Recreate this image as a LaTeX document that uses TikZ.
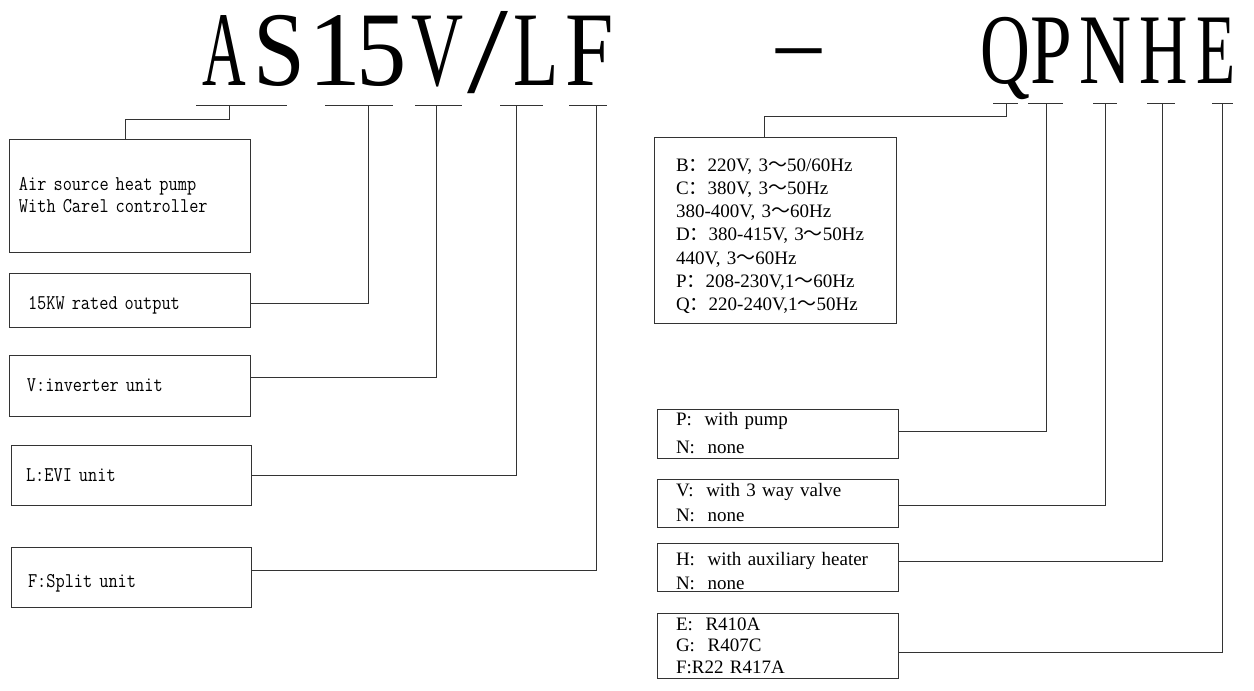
\documentclass[tikz,border=0pt]{standalone}
\usepackage{fontspec}
\setmainfont{Liberation Serif}
\newfontfamily\titlefont{Liberation Serif}
\newfontfamily\monofont[FakeStretch=0.85]{Latin Modern Mono}
\newfontfamily\cjk{Noto Sans CJK SC}
\newcommand{\fc}{{\cjk ：}}
\newcommand{\ft}{{\cjk ～}}
\newcommand{\topstrut}[1]{\rule{0pt}{#1}}
\definecolor{lc}{gray}{0.2}
\tikzset{
  ln/.style={draw=lc, line width=1pt},
  box/.style={draw=lc, line width=1pt, inner ysep=0pt, align=left},
  lt/.style={font=\monofont\fontsize{21}{22}\selectfont},
  rt/.style={font=\titlefont\fontsize{19}{#1}\selectfont},
  tchl/.style={anchor=base, inner sep=0pt, font=\titlefont\fontsize{106}{106}\selectfont},
  tchr/.style={anchor=base, inner sep=0pt, font=\titlefont\fontsize{100}{100}\selectfont}
}
\begin{document}
\begin{tikzpicture}[x=1pt,y=-1pt]
\useasboundingbox (0,0) rectangle (1254,691);

% ---- title, left part
\node[tchl] (tA) at (224,85) {\scalebox{0.57}[1]{A}};
\node[tchl] (tS) at (279,85) {\scalebox{0.88}[1]{S}};
\node[tchl] (t1) at (335,85) {\scalebox{1.0}[1]{1}};
\node[tchl] (t5) at (382,85) {\scalebox{0.95}[1]{5}};
\node[tchl] (tV) at (438,85) {\scalebox{0.68}[1]{V}};
\node[tchl] (tSl) at (487.5,92.7) {\scalebox{1.39}[1.16]{/}};
\node[tchl] (tL) at (536,85) {\scalebox{0.7}[1]{L}};
\node[tchl] (tF) at (590,85) {\scalebox{0.82}[1]{F}};
% ---- dash
\node[tchr] (tD) at (798.5,74) {\scalebox{0.9}[1]{–}};
% ---- title, right part
\node[tchr] (tQ) at (1005.5,83) {\scalebox{0.69}[1]{Q}};
\node[tchr] (tP) at (1051,83) {\scalebox{0.75}[1]{P}};
\node[tchr] (tN) at (1105,83) {\scalebox{0.72}[1]{N}};
\node[tchr] (tH) at (1163.5,83) {\scalebox{0.67}[1]{H}};
\node[tchr] (tE) at (1216,83) {\scalebox{0.64}[1]{E}};

% ---- underlines
\draw[ln] (196,105) -- (287,105);
\draw[ln] (325,105) -- (393,105);
\draw[ln] (415,105) -- (462,105);
\draw[ln] (500,105) -- (543,105);
\draw[ln] (569,105) -- (607,105);
\draw[ln] (993,103) -- (1018,103);
\draw[ln] (1028,103) -- (1063,103);
\draw[ln] (1093,103) -- (1117,103);
\draw[ln] (1147,103) -- (1175,103);
\draw[ln] (1212,103) -- (1233,103);

% ---- junctions
\coordinate (jAS) at (229,105);
\coordinate (j15) at (368,105);
\coordinate (jV) at (436,105);
\coordinate (jL) at (516,105);
\coordinate (jF) at (596,105);
\coordinate (jQ) at (1006,103);
\coordinate (jP) at (1046,103);
\coordinate (jN) at (1105,103);
\coordinate (jH) at (1162,103);
\coordinate (jE) at (1222,103);

% ---- left boxes
\node[box, lt, minimum height=113pt, inner xsep=10pt, text width=221pt] (b1) at (129.5,195.5)
  {Air source heat pump\\With Carel controller};
\node[box, lt, minimum height=54pt, inner xsep=19pt, text width=203pt] (b2) at (129.5,300)
  {\topstrut{23pt}15KW rated output};
\node[box, lt, minimum height=61pt, inner xsep=18pt, text width=205pt] (b3) at (129.5,385.5)
  {V:inverter unit};
\node[box, lt, minimum height=60pt, inner xsep=15pt, text width=210pt] (b4) at (131,475)
  {L:EVI unit};
\node[box, lt, minimum height=60pt, inner xsep=17pt, text width=206pt] (b5) at (131,577)
  {\topstrut{25pt}F:Split unit};

% ---- right boxes
\node[box, rt=23.2, minimum height=186pt, inner xsep=22pt, text width=198pt] (bB) at (775,230)
  {\topstrut{25pt}B\fc 220V, 3\ft 50/60Hz\\
   C\fc 380V, 3\ft 50Hz\\
   380-400V, 3\ft 60Hz\\
   D\fc 380-415V, 3\ft 50Hz\\
   440V, 3\ft 60Hz\\
   P\fc 208-230V,1\ft 60Hz\\
   Q\fc 220-240V,1\ft 50Hz};
\node[box, rt=28, minimum height=49pt, inner xsep=19pt, text width=203pt] (bP) at (777.5,433.5)
  {P:~~with pump\\N:~~none};
\node[box, rt=25, minimum height=48pt, inner xsep=19pt, text width=203pt] (bV) at (777.5,503)
  {V:~~with 3 way valve\\N:~~none};
\node[box, rt=24, minimum height=48pt, inner xsep=19pt, text width=203pt] (bH) at (777.5,567)
  {\topstrut{21.5pt}H:~~with auxiliary heater\\N:~~none};
\node[box, rt=21.5, minimum height=65pt, inner xsep=19pt, text width=203pt] (bE) at (777.5,645.5)
  {E:~~R410A\\G:~~R407C\\F:R22 R417A};

% ---- connectors
\draw[ln] ([xshift=-4.5pt]b1.north) -- ++(0,-19) -| (jAS);
\draw[ln] ([yshift=-3pt]b2.east) -| (j15);
\draw[ln] ([yshift=8.5pt]b3.east) -| (jV);
\draw[ln] (b4.east) -| (jL);
\draw[ln] ([yshift=7pt]b5.east) -| (jF);
\draw[ln] ([xshift=-11pt]bB.north) -- ++(0,-20) -| (jQ);
\draw[ln] ([yshift=2.5pt]bP.east) -| (jP);
\draw[ln] ([yshift=-2.5pt]bV.east) -| (jN);
\draw[ln] ([yshift=6pt]bH.east) -| (jH);
\draw[ln] ([yshift=-7pt]bE.east) -| (jE);
\end{tikzpicture}
\end{document}
